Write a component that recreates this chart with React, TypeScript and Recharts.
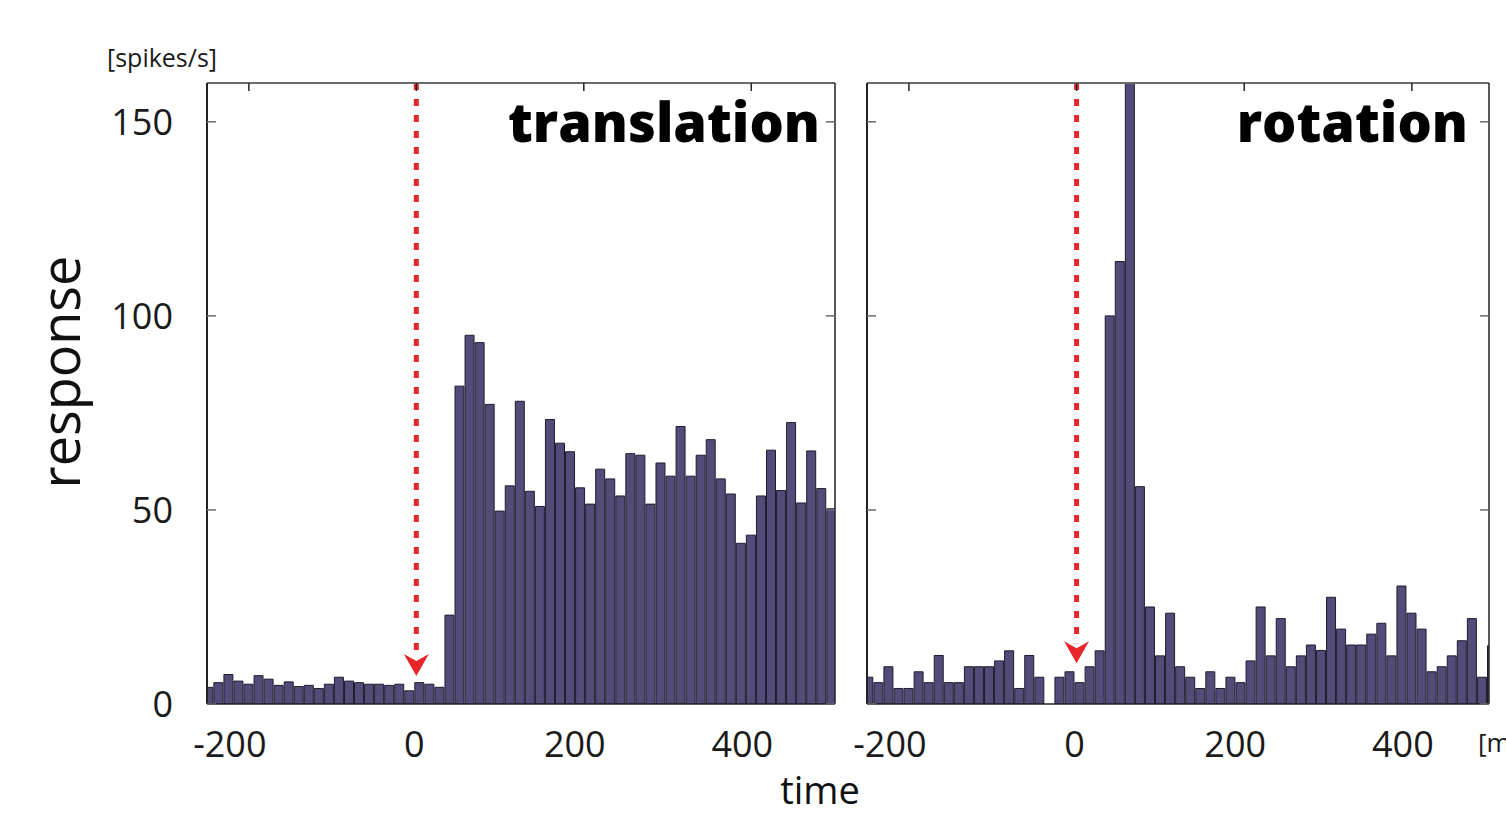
import { BarChart, Bar, XAxis, YAxis, ReferenceLine } from "recharts";

// PSTH bins: 12 ms wide, first bin centred at -249 ms
const FIRST_BIN_MS = -249;
const BIN_MS = 12;

// spikes/s per bin
const translationRates = [
  4.3, 5.5, 7.6, 5.9, 5.1, 7.3, 6.4, 4.8, 5.7, 4.5, 4.8, 4.0, 5.1, 6.9, 5.9,
  5.5, 5.1, 5.1, 4.8, 5.1, 3.4, 5.5, 5.1, 4.3, 22.9, 81.9, 95.0, 93.1, 77.2,
  49.7, 56.2, 78.0, 54.8, 50.9, 73.3, 67.2, 65.0, 55.7, 51.5, 60.5, 58.0, 53.6,
  64.5, 64.1, 51.5, 62.1, 58.7, 71.5, 58.7, 64.1, 68.1, 58.0, 54.1, 41.4, 43.5,
  53.6, 65.4, 55.0, 72.5, 51.8, 65.2, 55.5, 50.3,
];

const rotationRates = [
  6.9, 5.5, 9.6, 4.0, 4.0, 8.3, 5.5, 12.5, 5.5, 5.5, 9.6, 9.6, 9.6, 11.1, 13.7,
  4.0, 12.5, 6.9, 0, 6.9, 8.3, 5.5, 9.6, 13.7, 100, 114, 175, 56, 25, 12.4,
  23.4, 9.6, 6.9, 4.0, 8.3, 4.0, 6.9, 5.5, 11.1, 25, 12.4, 22, 9.6, 12.4, 15.2,
  13.8, 27.5, 19.3, 15.2, 15.2, 18, 20.8, 12.4, 30.4, 23.4, 19.3, 8.3, 9.6,
  12.4, 16.3, 22, 6.9, 15,
];

const xTicks = [-200, 0, 200, 400];
const yTicks = [0, 50, 100, 150];
const Y_MAX = 160;
const STIM_ONSET = 0;

const FONT = "'Open Sans', sans-serif";
const BAR_FILL = "#544c78";
const BAR_STROKE = "#1f1b2e";
const AXIS_DARK = "#222";
const AXIS_GRAY = "#6a6a6a";
const RED = "#e8262a";

const toBins = (rates: number[]) =>
  rates.map((rate, i) => ({ t: FIRST_BIN_MS + i * BIN_MS, rate }));

// tick line only, no label
const NoLabel = () => <g />;

function TimeTick({ x, y, payload }: any) {
  const v = payload.value;
  // labels in the original sit a little left of their ticks
  const dx = v < 0 ? -19 : v === 0 ? -2 : -9;
  return (
    <text
      x={x + dx}
      y={y + 51}
      textAnchor="middle"
      fontSize={36}
      fontFamily={FONT}
      fill="#1a1a1a"
    >
      {v}
    </text>
  );
}

function StimArrow(props: any) {
  const { x1, y1, y2 } = props;
  const head = 22;
  return (
    <g>
      <line
        x1={x1}
        y1={y1}
        x2={x1}
        y2={y2 - head + 2}
        stroke={RED}
        strokeWidth={5}
        strokeDasharray="7 9"
      />
      <polygon
        points={`${x1 - 12.5},${y2 - head} ${x1},${y2 - head + 7} ${x1 + 12.5},${y2 - head} ${x1},${y2}`}
        fill={RED}
      />
    </g>
  );
}

interface PanelProps {
  rates: number[];
  xMax: number;
  arrowTip: number;
  withLabels: boolean;
  width: number;
  margin: { top: number; right: number; bottom: number; left: number };
}

function Panel({ rates, xMax, arrowTip, withLabels, width, margin }: PanelProps) {
  const data = toBins(rates);
  return (
    <BarChart width={width} height={816} data={data} margin={margin}>
      <XAxis
        xAxisId="b"
        dataKey="t"
        type="number"
        domain={[-250, xMax]}
        ticks={xTicks}
        allowDataOverflow
        height={60}
        tickLine={false}
        tickSize={0}
        tick={<TimeTick />}
        axisLine={{ stroke: AXIS_DARK, strokeWidth: 1.5 }}
      />
      <XAxis
        xAxisId="top"
        dataKey="t"
        type="number"
        orientation="top"
        mirror
        domain={[-250, xMax]}
        ticks={xTicks}
        allowDataOverflow
        tick={<NoLabel />}
        tickSize={8}
        tickLine={{ stroke: AXIS_DARK, strokeWidth: 1.5 }}
        axisLine={{ stroke: AXIS_GRAY, strokeWidth: 2 }}
      />
      <YAxis
        yAxisId="l"
        domain={[0, Y_MAX]}
        ticks={yTicks}
        allowDataOverflow
        width={withLabels ? 60 : 10}
        tickLine={false}
        tickSize={0}
        tickMargin={34}
        tick={
          withLabels
            ? { fontSize: 36, fill: "#1a1a1a", fontFamily: FONT }
            : <NoLabel />
        }
        axisLine={{ stroke: AXIS_DARK, strokeWidth: 2 }}
      />
      <YAxis
        yAxisId="lin"
        domain={[0, Y_MAX]}
        ticks={yTicks}
        allowDataOverflow
        mirror
        tick={<NoLabel />}
        tickSize={9}
        tickLine={{ stroke: AXIS_GRAY, strokeWidth: 1.5 }}
        axisLine={false}
      />
      <YAxis
        yAxisId="r"
        orientation="right"
        mirror
        domain={[0, Y_MAX]}
        ticks={yTicks}
        allowDataOverflow
        tick={<NoLabel />}
        tickSize={9}
        tickLine={{ stroke: AXIS_GRAY, strokeWidth: 1.5 }}
        axisLine={{ stroke: AXIS_DARK, strokeWidth: 1.5 }}
      />
      <Bar
        xAxisId="b"
        yAxisId="l"
        dataKey="rate"
        barSize={9}
        fill={BAR_FILL}
        stroke={BAR_STROKE}
        strokeWidth={1}
        isAnimationActive={false}
      />
      <ReferenceLine
        xAxisId="b"
        yAxisId="l"
        segment={[
          { x: STIM_ONSET, y: Y_MAX },
          { x: STIM_ONSET, y: arrowTip },
        ]}
        shape={<StimArrow />}
      />
    </BarChart>
  );
}

export default function App() {
  return (
    <div
      style={{
        position: "fixed",
        left: 0,
        top: 0,
        width: 1506,
        height: 816,
        background: "#fff",
        overflow: "hidden",
        fontFamily: FONT,
      }}
    >
      <div style={{ position: "absolute", left: 0, top: 0 }}>
        <Panel
          rates={translationRates}
          xMax={500}
          arrowTip={7.2}
          withLabels
          width={850}
          margin={{ top: 83, right: 15, bottom: 52, left: 147 }}
        />
      </div>
      <div style={{ position: "absolute", left: 850, top: 0 }}>
        <Panel
          rates={rotationRates}
          xMax={492}
          arrowTip={10.5}
          withLabels={false}
          width={656}
          margin={{ top: 83, right: 17, bottom: 52, left: 7 }}
        />
      </div>
      <svg
        width={1506}
        height={816}
        style={{ position: "absolute", left: 0, top: 0, pointerEvents: "none" }}
        fontFamily={FONT}
      >
        <text x={107} y={67} fontSize={25} fill="#1a1a1a">
          [spikes/s]
        </text>
        <text
          x={80}
          y={372}
          fontSize={54}
          fill="#111"
          textAnchor="middle"
          transform="rotate(-90 80 372)"
        >
          response
        </text>
        <text x={820} y={804} fontSize={38} fill="#111" textAnchor="middle">
          time
        </text>
        <text x={1478} y={752} fontSize={26} fill="#1a1a1a">
          [ms]
        </text>
        <text
          x={820}
          y={142}
          fontSize={54}
          fontWeight={800}
          fill="#000"
          textAnchor="end"
        >
          translation
        </text>
        <text
          x={1468}
          y={142}
          fontSize={54}
          fontWeight={800}
          fill="#000"
          textAnchor="end"
        >
          rotation
        </text>
      </svg>
    </div>
  );
}
